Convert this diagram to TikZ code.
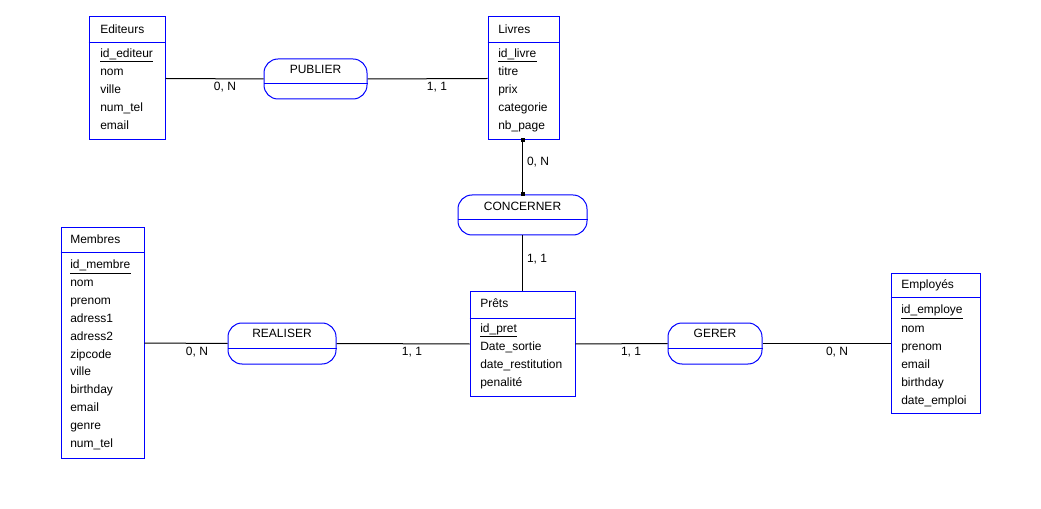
\documentclass[tikz,border=0pt]{standalone}
\usepackage{fontspec}
\setmainfont{Liberation Sans}
\begin{document}
\begin{tikzpicture}[x=0.75pt,y=-0.75pt,
  font=\fontsize{9}{11}\selectfont,
  entity/.style={draw=blue,line width=0.75pt,inner sep=0pt,rectangle},
  assoc/.style={draw=blue,line width=0.75pt,inner sep=0pt,rectangle,rounded corners=10.5pt,minimum height=30pt},
  divider/.style={draw=blue,line width=0.75pt},
  attr/.style={anchor=base west,inner sep=0pt},
  atitle/.style={anchor=base,inner sep=0pt},
  card/.style={anchor=base,inner sep=0pt},
  link/.style={draw=black,line width=0.75pt},
  keyline/.style={draw=black,line width=0.75pt},
  endsq/.style={fill=black,inner sep=0pt,minimum size=3pt,rectangle}]
\useasboundingbox (0,0) rectangle (1041,509);

% ---------- entities ----------
\node[entity,minimum width=57pt,minimum height=92.25pt] (edi) at (127,78.5) {};
\node[entity,minimum width=53.25pt,minimum height=92.25pt] (liv) at (523.5,78.5) {};
\node[entity,minimum width=78.75pt,minimum height=78pt] (pre) at (522.5,344) {};
\node[entity,minimum width=62.25pt,minimum height=172.5pt] (mem) at (102.5,343) {};
\node[entity,minimum width=66.75pt,minimum height=104.25pt] (emp) at (935.5,343.5) {};

% title separators
\draw[divider] (edi.west |- 0,43) -- (edi.east |- 0,43);
\draw[divider] (liv.west |- 0,43) -- (liv.east |- 0,43);
\draw[divider] (pre.west |- 0,318) -- (pre.east |- 0,318);
\draw[divider] (mem.west |- 0,253) -- (mem.east |- 0,253);
\draw[divider] (emp.west |- 0,298) -- (emp.east |- 0,298);

% Editeurs
\node[attr] (ediT) at (100,33.5) {Editeurs};
\node[attr] (ediK) at (100,58) {id\_editeur};
\foreach \t [count=\i] in {nom,ville,num\_tel,email}
  \node[attr] at (100,{58+18*\i}) {\t};
\draw[keyline] ([yshift=-3pt]ediK.base west) -- ([yshift=-3pt]ediK.base east);

% Livres
\node[attr] (livT) at (498,33.5) {Livres};
\node[attr] (livK) at (498,58) {id\_livre};
\foreach \t [count=\i] in {titre,prix,categorie,nb\_page}
  \node[attr] at (498,{58+18*\i}) {\t};
\draw[keyline] ([yshift=-3pt]livK.base west) -- ([yshift=-3pt]livK.base east);

% Prêts
\node[attr] (preT) at (480,307) {Prêts};
\node[attr] (preK) at (480,332) {id\_pret};
\foreach \t [count=\i] in {Date\_sortie,date\_restitution,penalité}
  \node[attr] at (480,{332+18*\i}) {\t};
\draw[keyline] ([yshift=-3pt]preK.base west) -- ([yshift=-3pt]preK.base east);

% Membres
\node[attr] (memT) at (70,243.5) {Membres};
\node[attr] (memK) at (70,268.5) {id\_membre};
\foreach \t [count=\i] in {nom,prenom,adress1,adress2,zipcode,ville,birthday,email,genre,num\_tel}
  \node[attr] at (70,{268.5+17.9*\i}) {\t};
\draw[keyline] ([yshift=-3.6pt]memK.base west) -- ([yshift=-3.6pt]memK.base east);

% Employés
\node[attr] (empT) at (901,289) {Employés};
\node[attr] (empK) at (901,314) {id\_employe};
\foreach \t [count=\i] in {nom,prenom,email,birthday,date\_emploi}
  \node[attr] at (901,{314+18*\i}) {\t};
\draw[keyline] ([yshift=-3.6pt]empK.base west) -- ([yshift=-3.6pt]empK.base east);

% ---------- associations ----------
\node[assoc,minimum width=77.25pt] (pub) at (315.5,79) {};
\node[assoc,minimum width=96.75pt] (con) at (522.5,215) {};
\node[assoc,minimum width=81pt,minimum height=30.75pt] (rea) at (282,343.5) {};
\node[assoc,minimum width=70.5pt,minimum height=30.75pt] (ger) at (715,343.5) {};

\foreach \r in {pub,con,rea,ger}
  \draw[divider] ([yshift=-3.75pt]\r.west) -- ([yshift=-3.75pt]\r.east);

\node[atitle] at ([yshift=-11.6pt]pub.north) {PUBLIER};
\node[atitle] at ([yshift=-11.8pt]con.north) {CONCERNER};
\node[atitle] at ([yshift=-11.6pt]rea.north) {REALISER};
\node[atitle] at ([yshift=-11.6pt]ger.north) {GERER};

% ---------- links ----------
\draw[link] (edi.east) -- (pub.west);
\draw[link] (pub.east) -- (liv.west);
\draw[link] (con.north |- liv.south) -- (con.north);
\draw[link] (con.south) -- (pre.north);
\draw[link] (mem.east) -- (rea.west);
\draw[link] (rea.east) -- (pre.west);
\draw[link] (pre.east) -- (ger.west);
\draw[link] (ger.east) -- (emp.west);

\node[endsq] at (con.north |- liv.south) {};
\node[endsq] at (con.north) {};

% cardinalities
\node[card] at (225,91) {0, N};
\node[card] at (437,91) {1, 1};
\node[card] at (538,166) {0, N};
\node[card] at (537,263) {1, 1};
\node[card] at (197,355) {0, N};
\node[card] at (412,355) {1, 1};
\node[card] at (631,355) {1, 1};
\node[card] at (837,355) {0, N};
\end{tikzpicture}
\end{document}
